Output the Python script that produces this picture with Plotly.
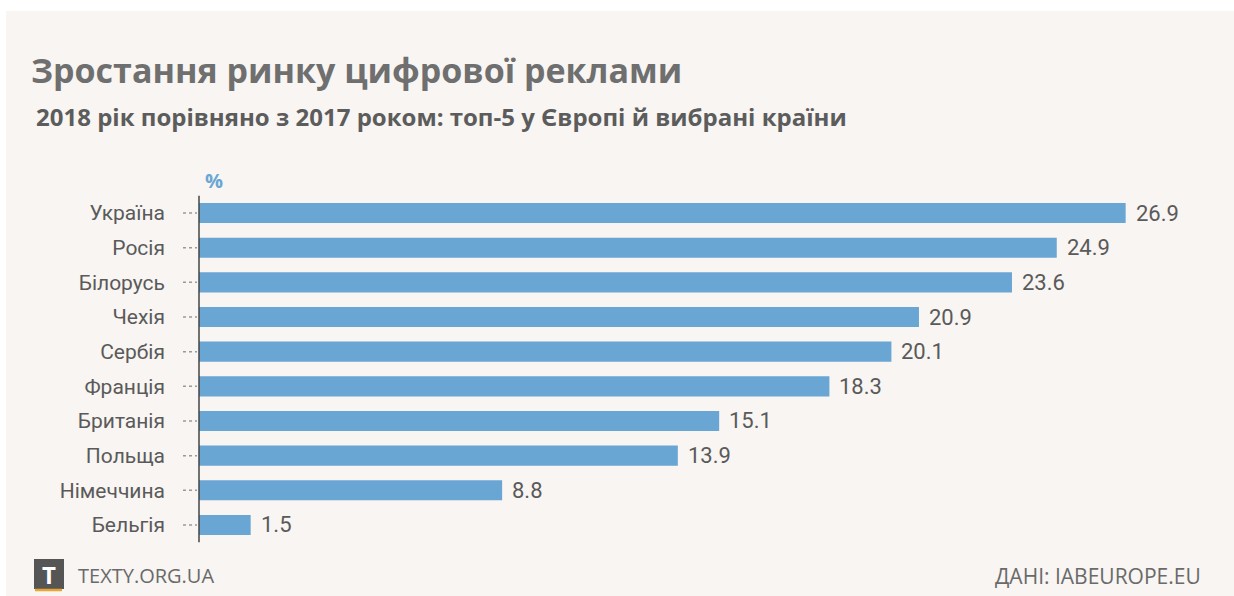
import plotly.graph_objects as go

W, H = 1234, 596

countries = ["Україна", "Росія", "Білорусь", "Чехія", "Сербія", "Франція",
             "Британія", "Польща", "Німеччина", "Бельгія"]
values = [26.9, 24.9, 23.6, 20.9, 20.1, 18.3, 15.1, 13.9, 8.8, 1.5]

title_text = "Зростання ринку цифрової реклами"
subtitle_text = "2018 рік порівняно з 2017 роком: топ-5 у Європі й вибрані країни"
unit_text = "%"
source_text = "ДАНІ: IABEUROPE.EU"
brand_text = "TEXTY.ORG.UA"

BAR = "#6aa6d4"
BG = "#f8f5f2"
NARROW = "Roboto, Liberation Sans Narrow, sans-serif"
SANS = "Open Sans, Noto Sans, sans-serif"

def px_x(p):
    return p / W

def px_y(p):
    return 1 - p / H

x0, x1 = 199, 1198
y_top, y_bot = 195.7, 542.3

fig = go.Figure()
fig.add_trace(go.Bar(
    x=values, y=countries, orientation="h",
    marker=dict(color=BAR, line=dict(width=0)),
    hoverinfo="skip",
))

annotations = []
for c, v in zip(countries, values):
    annotations.append(dict(
        x=v, y=c, xref="x", yref="y", text=f"{v:.1f}", showarrow=False,
        xanchor="left", yanchor="middle", xshift=8,
        font=dict(family=NARROW, size=22, color="#5a5a5a"),
    ))

annotations += [
    dict(x=px_x(29), y=px_y(70), xref="paper", yref="paper", text=title_text,
         showarrow=False, xanchor="left", yanchor="middle",
         font=dict(family=SANS, size=34, color="#6f6f6f", weight=700)),
    dict(x=px_x(34), y=px_y(116), xref="paper", yref="paper", text=subtitle_text,
         showarrow=False, xanchor="left", yanchor="middle",
         font=dict(family=SANS, size=24, color="#5c5c5c", weight=700)),
    dict(x=px_x(203), y=px_y(180), xref="paper", yref="paper", text=unit_text,
         showarrow=False, xanchor="left", yanchor="middle",
         font=dict(family=SANS, size=20, color=BAR, weight=700)),
    dict(x=px_x(76), y=px_y(575), xref="paper", yref="paper", text=brand_text,
         showarrow=False, xanchor="left", yanchor="middle",
         font=dict(family=SANS, size=20, color="#6a6a6a")),
    dict(x=px_x(49), y=px_y(574), xref="paper", yref="paper", text="<b>T</b>",
         showarrow=False, xanchor="center", yanchor="middle",
         font=dict(family=SANS, size=24, color="#ffffff")),
    dict(x=px_x(1203), y=px_y(576), xref="paper", yref="paper", text=source_text,
         showarrow=False, xanchor="right", yanchor="middle",
         font=dict(family=SANS, size=21, color="#6a6a6a")),
]

shapes = [
    dict(type="rect", xref="paper", yref="paper", x0=px_x(6), x1=1, y0=0, y1=px_y(11),
         fillcolor=BG, line=dict(width=0), layer="below"),
    dict(type="rect", xref="paper", yref="paper", x0=px_x(34), x1=px_x(64),
         y0=px_y(589), y1=px_y(559), fillcolor="#555555", line=dict(width=0)),
    dict(type="line", xref="paper", yref="paper", x0=px_x(35), x1=px_x(62),
         y0=px_y(590), y1=px_y(590), line=dict(color="#e8a531", width=2.5)),
    dict(type="line", xref="paper", yref="paper", x0=px_x(x0), x1=px_x(x0),
         y0=px_y(y_top), y1=px_y(y_bot), line=dict(color="#444444", width=1.5)),
]
for c in countries:
    shapes.append(dict(type="line", xref="paper", yref="y", x0=px_x(183), x1=px_x(197),
                       y0=c, y1=c, line=dict(color="#9a9a9a", width=1.5, dash="dot")))

fig.update_layout(
    width=W, height=H,
    margin=dict(l=0, r=0, t=0, b=0),
    paper_bgcolor="#ffffff",
    plot_bgcolor="rgba(0,0,0,0)",
    showlegend=False,
    bargap=0.42,
    xaxis=dict(domain=[px_x(x0), px_x(x1)], range=[0, 29], visible=False, fixedrange=True),
    yaxis=dict(domain=[px_y(y_bot), px_y(y_top)], type="category",
               categoryorder="array", categoryarray=countries, autorange="reversed",
               showgrid=False, zeroline=False, showline=False, ticks="",
               ticklabelstandoff=33,
               tickfont=dict(family=NARROW, size=21, color="#5a5a5a")),
    annotations=annotations,
    shapes=shapes,
)

fig.write_html("out.html")
